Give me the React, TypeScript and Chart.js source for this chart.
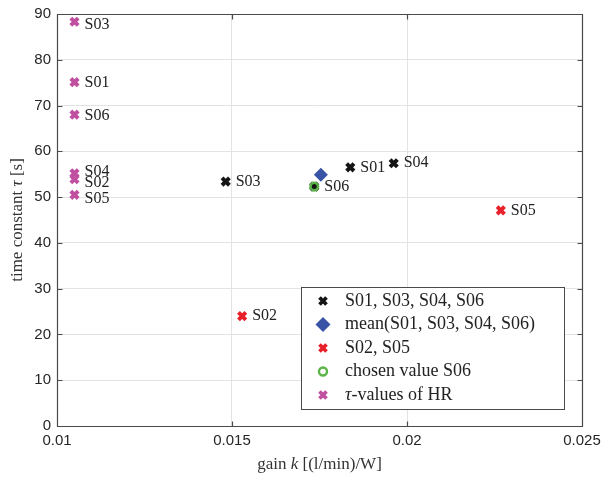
import React, { useEffect, useRef } from 'react';
import { Chart, registerables } from 'chart.js';
Chart.register(...registerables);

// ---- data ----
const legendLabels = ['S01, S03, S04, S06', 'mean(S01, S03, S04, S06)', 'S02, S05', 'chosen value S06', 'τ-values of HR'];

const mainNames = ['S01', 'S03', 'S04', 'S06'];
const mainGain = [0.01838, 0.01482, 0.01962, 0.01735];
const mainTau = [56.5, 53.4, 57.4, 52.3];

const meanGain = [0.01754];
const meanTau = [54.9];

const outNames = ['S02', 'S05'];
const outGain = [0.01529, 0.02268];
const outTau = [24.0, 47.1];

const chosenGain = [0.01735];
const chosenTau = [52.3];

const hrNames = ['S01', 'S02', 'S03', 'S04', 'S05', 'S06'];
const hrGain = [0.0105, 0.0105, 0.0105, 0.0105, 0.0105, 0.0105];
const hrTau = [75.1, 53.9, 88.3, 55.2, 50.5, 68.0];

const xTickValues = [0.01, 0.015, 0.02, 0.025];
const xTickLabels = ['0.01', '0.015', '0.02', '0.025'];
const yTickValues = [0, 10, 20, 30, 40, 50, 60, 70, 80, 90];

// ---- styles ----
const BLACK = '#151515';
const BLUE = '#3953a6';
const RED = '#e8202a';
const GREEN = '#5ab548';
const MAGENTA = '#c0509f';
const AXIS = '#4a4a4a';
const TICKTXT = '#262626';
const GRID = '#e3e3e3';
const SERIF = '"Liberation Serif", "DejaVu Serif", serif';
const SANS = '"Liberation Sans", Arial, sans-serif';
const hrLabelDy = [1, 4, 3, -2, 4, 1];

function pts(xs: number[], ys: number[]) {
  return xs.map((x, i) => ({ x, y: ys[i] }));
}

function drawCross(ctx: CanvasRenderingContext2D, x: number, y: number, r: number, lw: number, color: string) {
  ctx.save();
  ctx.strokeStyle = color;
  ctx.lineWidth = lw;
  ctx.beginPath();
  ctx.moveTo(x - r, y - r);
  ctx.lineTo(x + r, y + r);
  ctx.moveTo(x - r, y + r);
  ctx.lineTo(x + r, y - r);
  ctx.stroke();
  ctx.restore();
}

const overlayPlugin = {
  id: 'overlay',
  beforeDatasetsDraw(chart: any) {
    const { ctx, chartArea: a, scales } = chart;
    ctx.save();
    ctx.strokeStyle = AXIS;
    ctx.lineWidth = 1.2;
    ctx.beginPath();
    const L = Math.round(a.left) + 0.5, R = Math.round(a.right) + 0.5;
    const T = Math.round(a.top) + 0.5, B = Math.round(a.bottom) + 0.5;
    ctx.rect(L, T, R - L, B - T);
    const tl = 5;
    xTickValues.forEach((v) => {
      const px = Math.round(scales.x.getPixelForValue(v)) + 0.5;
      ctx.moveTo(px, B); ctx.lineTo(px, B - tl);
      ctx.moveTo(px, T); ctx.lineTo(px, T + tl);
    });
    yTickValues.forEach((v) => {
      const py = Math.round(scales.y.getPixelForValue(v)) + 0.5;
      ctx.moveTo(L, py); ctx.lineTo(L + tl, py);
      ctx.moveTo(R, py); ctx.lineTo(R - tl, py);
    });
    ctx.stroke();
    ctx.restore();
  },
  afterDraw(chart: any) {
    const { ctx, chartArea: a } = chart;
    ctx.save();
    // point labels
    ctx.fillStyle = '#222';
    ctx.font = `16px ${SERIF}`;
    ctx.textBaseline = 'middle';
    ctx.textAlign = 'left';
    const labelSets: [number, string[], number[] | null][] = [
      [2, mainNames, null],
      [3, outNames, null],
      [4, hrNames, hrLabelDy],
    ];
    labelSets.forEach(([di, names, dys]) => {
      const meta = chart.getDatasetMeta(di);
      meta.data.forEach((el: any, j: number) => {
        const dy = dys ? dys[j] : 0;
        ctx.fillText(names[j], el.x + 10, el.y + dy);
      });
    });

    // axis titles
    ctx.fillStyle = '#333';
    const drawMixed = (parts: [string, boolean][], cx: number, cy: number) => {
      const size = 17;
      const fonts = parts.map(([, it]) => `${it ? 'italic ' : ''}${size}px ${SERIF}`);
      let total = 0;
      const widths = parts.map(([t], i) => { ctx.font = fonts[i]; const w = ctx.measureText(t).width; total += w; return w; });
      let x = cx - total / 2;
      ctx.textAlign = 'left';
      ctx.textBaseline = 'middle';
      parts.forEach(([t], i) => { ctx.font = fonts[i]; ctx.fillText(t, x, cy); x += widths[i]; });
    };
    drawMixed([['gain ', false], ['k', true], [' [(l/min)/W]', false]], (a.left + a.right) / 2, 465);
    ctx.save();
    ctx.translate(18, (a.top + a.bottom) / 2);
    ctx.rotate(-Math.PI / 2);
    drawMixed([['time constant ', false], ['τ', true], [' [s]', false]], 0, 0);
    ctx.restore();

    // legend
    const lx = 301.5, ly = 287.5, lw = 263, lh = 122;
    ctx.fillStyle = '#ffffff';
    ctx.fillRect(lx, ly, lw, lh);
    ctx.strokeStyle = AXIS;
    ctx.lineWidth = 1;
    ctx.strokeRect(lx, ly, lw, lh);
    const mx = 323;
    const rowY = (i: number) => 301 + i * 23.5;
    drawCross(ctx, mx, rowY(0), 3.5, 3.8, BLACK);
    ctx.fillStyle = BLUE;
    ctx.beginPath();
    ctx.moveTo(mx - 7.5, rowY(1)); ctx.lineTo(mx, rowY(1) - 7.5); ctx.lineTo(mx + 7.5, rowY(1)); ctx.lineTo(mx, rowY(1) + 7.5); ctx.closePath();
    ctx.fill();
    drawCross(ctx, mx, rowY(2), 3.5, 3.8, RED);
    ctx.strokeStyle = GREEN; ctx.lineWidth = 2.4;
    ctx.beginPath(); ctx.arc(mx, rowY(3), 4, 0, Math.PI * 2); ctx.stroke();
    drawCross(ctx, mx, rowY(4), 3.5, 3.8, MAGENTA);
    ctx.fillStyle = '#222';
    ctx.textAlign = 'left';
    ctx.textBaseline = 'middle';
    legendLabels.forEach((t, i) => {
      if (i === 4) {
        ctx.font = `italic 18px ${SERIF}`;
        ctx.fillText('τ', 345, rowY(i));
        const w = ctx.measureText('τ').width;
        ctx.font = `18px ${SERIF}`;
        ctx.fillText(t.slice(1), 345 + w, rowY(i));
      } else {
        ctx.font = `18px ${SERIF}`;
        ctx.fillText(t, 345, rowY(i));
      }
    });
    ctx.restore();
  },
};

export default function App() {
  const ref = useRef<HTMLCanvasElement | null>(null);
  useEffect(() => {
    if (!ref.current) return;
    const crossStyle = (color: string) => ({
      pointStyle: 'crossRot' as const,
      pointRadius: 5.2,
      pointBorderWidth: 4,
      borderColor: color,
      backgroundColor: color,
      pointHoverRadius: 5.2,
    });
    const chart = new Chart(ref.current, {
      type: 'scatter',
      data: {
        datasets: [
          {
            label: legendLabels[3],
            data: pts(chosenGain, chosenTau),
            pointStyle: 'circle',
            pointRadius: 3.8,
            pointBorderWidth: 2.6,
            borderColor: GREEN,
            backgroundColor: 'rgba(0,0,0,0)',
            order: 0,
          },
          {
            label: legendLabels[1],
            data: pts(meanGain, meanTau),
            pointStyle: 'rectRot',
            pointRadius: 7,
            pointBorderWidth: 0,
            borderColor: BLUE,
            backgroundColor: BLUE,
            order: 1,
          },
          { label: legendLabels[0], data: pts(mainGain, mainTau), ...crossStyle(BLACK), order: 2 },
          { label: legendLabels[2], data: pts(outGain, outTau), ...crossStyle(RED), order: 3 },
          { label: legendLabels[4], data: pts(hrGain, hrTau), ...crossStyle(MAGENTA), order: 4 },
        ],
      },
      options: {
        animation: false,
        responsive: false,
        maintainAspectRatio: false,
        layout: { padding: { top: 14, right: 20, left: 0, bottom: 0 } },
        plugins: { legend: { display: false }, tooltip: { enabled: false } },
        scales: {
          x: {
            type: 'linear',
            min: 0.01,
            max: 0.025,
            afterBuildTicks: (s: any) => { s.ticks = xTickValues.map((v) => ({ value: v })); },
            afterFit: (s: any) => { s.height = 52; s.paddingRight = 0; s.paddingLeft = 0; },
            ticks: {
              padding: 6,
              color: TICKTXT,
              font: { family: SANS, size: 15 },
              maxRotation: 0,
              callback: (v: any) => { const i = xTickValues.findIndex((t) => Math.abs(t - v) < 1e-9); return i >= 0 ? xTickLabels[i] : ''; },
            },
            grid: { color: GRID, drawTicks: false, lineWidth: 1 },
            border: { display: false },
          },
          y: {
            type: 'linear',
            min: 0,
            max: 90,
            afterBuildTicks: (s: any) => { s.ticks = yTickValues.map((v) => ({ value: v })); },
            afterFit: (s: any) => { s.width = 57; s.paddingTop = 0; s.paddingBottom = 0; },
            ticks: {
              padding: 6,
              color: TICKTXT,
              font: { family: SANS, size: 15 },
              callback: (v: any) => String(v),
            },
            grid: { color: GRID, drawTicks: false, lineWidth: 1 },
            border: { display: false },
          },
        },
      },
      plugins: [overlayPlugin],
    });
    return () => chart.destroy();
  }, []);
  return (
    <div style={{ position: 'fixed', left: 0, top: 0, width: 602, height: 478, background: '#fff' }}>
      <canvas ref={ref} width={602} height={478} style={{ width: 602, height: 478 }} />
    </div>
  );
}
